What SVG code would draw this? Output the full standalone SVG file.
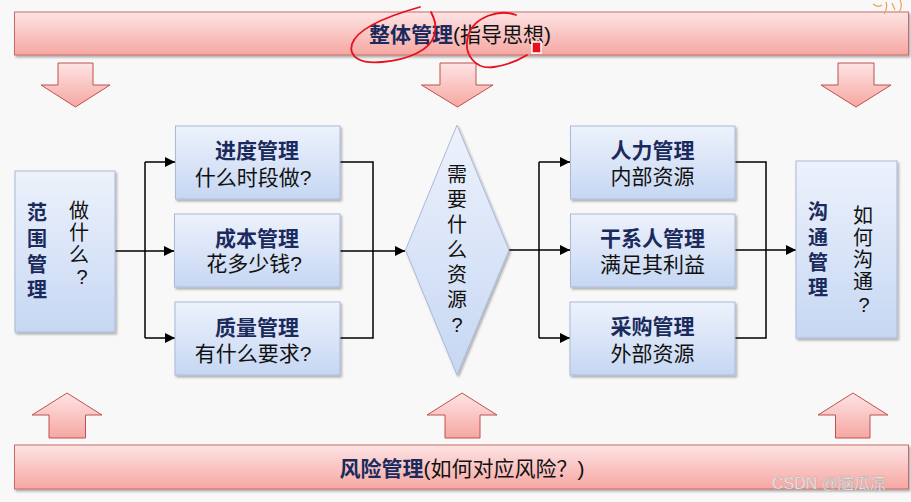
<svg xmlns="http://www.w3.org/2000/svg" width="911" height="502" viewBox="0 0 911 502">
<defs>
<linearGradient id="pink" x1="0" y1="0" x2="0" y2="1">
<stop offset="0" stop-color="#fde4e4"/>
<stop offset="1" stop-color="#f6a7a2"/>
</linearGradient>
<linearGradient id="blue" x1="0" y1="0" x2="0" y2="1">
<stop offset="0" stop-color="#edf2fc"/>
<stop offset="1" stop-color="#c6d7f3"/>
</linearGradient>
<filter id="sh" x="-10%" y="-10%" width="130%" height="130%">
<feDropShadow dx="1.5" dy="2" stdDeviation="1.2" flood-color="#000" flood-opacity="0.3"/>
</filter>
<marker id="ah" viewBox="0 0 10 10" refX="10" refY="5" markerWidth="10" markerHeight="10" markerUnits="userSpaceOnUse" orient="auto">
<path d="M0 0 L10 5 L0 10 z" fill="#000"/>
</marker>
</defs>
<style>
text{font-family:"Liberation Sans","Noto Sans CJK SC",sans-serif;dominant-baseline:central}
.bar{fill:url(#pink);stroke:#c76a66;stroke-width:1;filter:url(#sh)}
.barr{fill:url(#pink);stroke:#c0504d;stroke-width:1}
.box{fill:url(#blue);stroke:#a9b9d8;stroke-width:1;filter:url(#sh)}
.t{font-size:21px;font-weight:bold;fill:#1b2a5c;text-anchor:middle}
.s{font-size:21px;fill:#111;text-anchor:middle}
.v{font-size:20px;text-anchor:middle}
.vb{font-size:20px;font-weight:bold;fill:#1b2a5c;text-anchor:middle}
.c{fill:none;stroke:#000;stroke-width:1.5}
.ca{fill:none;stroke:#000;stroke-width:1.5;marker-end:url(#ah)}
.pen{fill:none;stroke:#e8101a;stroke-width:1.8;stroke-linecap:round}
</style>
<rect width="911" height="502" fill="#f8f8f9"/>

<g id="integration">
<rect class="bar" x="14.5" y="12" width="894" height="43"/>
<text x="460" y="34" style="font-size:21px;text-anchor:middle"><tspan font-weight="bold" fill="#1b2a5c">整体管理</tspan><tspan fill="#111">(指导思想)</tspan></text>
</g>

<g id="risk">
<rect class="bar" x="14.5" y="445" width="894" height="44"/>
<text x="462" y="468" style="font-size:21px;text-anchor:middle"><tspan font-weight="bold" fill="#1b2a5c">风险管理</tspan><tspan fill="#111">(如何对应风险？)</tspan></text>
<text x="829" y="483" style="font-size:16px;text-anchor:middle;fill:#f4f4f4;stroke:#a8a8a8;stroke-width:0.4">CSDN @脑瓜凉</text>
</g>

<g id="down-arrows">
<path class="barr" d="M58 63 H93 V85 H110 L75.5 107 L41 85 H58 Z"/>
<path class="barr" d="M440 63 H476 V85 H493 L457.5 107 L421.5 85 H440 Z"/>
<path class="barr" d="M838 63 H874 V85 H891 L856 107 L821 85 H838 Z"/>
</g>
<g id="up-arrows">
<path class="barr" d="M49 438 H85.5 V415 H102 L67 393 L32 415 H49 Z"/>
<path class="barr" d="M445 438 H480 V415 H497 L462 393 L427 415 H445 Z"/>
<path class="barr" d="M835.5 438 H870 V415 H888 L853 393 L818 415 H835.5 Z"/>
</g>

<g id="connectors">
<path class="c" d="M115 251 H145"/>
<path class="c" d="M145 162 V338"/>
<path class="ca" d="M145 162 H175"/>
<path class="ca" d="M145 251 H174"/>
<path class="ca" d="M145 338 H175"/>
<path class="c" d="M340 162 H373 V338 H340"/>
<path class="ca" d="M340 251 H405"/>
<path class="c" d="M509 250 H539"/>
<path class="c" d="M539 162 V338"/>
<path class="ca" d="M539 162 H570"/>
<path class="ca" d="M539 250 H570"/>
<path class="ca" d="M539 338 H570"/>
<path class="c" d="M735 162 H766 V338 H735"/>
<path class="ca" d="M735 250 H796"/>
</g>

<g id="scope">
<rect class="box" x="15" y="171" width="100" height="161"/>
<text class="vb" x="37" y="213">范</text>
<text class="vb" x="37" y="239">围</text>
<text class="vb" x="37" y="265">管</text>
<text class="vb" x="37" y="290">理</text>
<text class="v" x="79" y="211" fill="#111">做</text>
<text class="v" x="79" y="233" fill="#111">什</text>
<text class="v" x="79" y="255" fill="#111">么</text>
<text class="v" x="82" y="277" fill="#111">?</text>
</g>

<g id="schedule">
<rect class="box" x="175.5" y="126" width="164.5" height="73"/>
<text class="t" x="257" y="150">进度管理</text>
<text class="s" x="253" y="177">什么时段做?</text>
</g>
<g id="cost">
<rect class="box" x="174.5" y="214" width="165.5" height="73"/>
<text class="t" x="257" y="238">成本管理</text>
<text class="s" x="254" y="263">花多少钱?</text>
</g>
<g id="quality">
<rect class="box" x="175" y="302" width="165" height="73"/>
<text class="t" x="257" y="327">质量管理</text>
<text class="s" x="253" y="353">有什么要求?</text>
</g>

<g id="resources">
<path d="M457 125 L509 250 L457 375 L405.5 250 Z" fill="url(#blue)" stroke="#a9b9d8" stroke-width="1" filter="url(#sh)"/>
<text class="v" x="457" y="175" fill="#111">需</text>
<text class="v" x="457" y="200" fill="#111">要</text>
<text class="v" x="457" y="225" fill="#111">什</text>
<text class="v" x="457" y="250" fill="#111">么</text>
<text class="v" x="457" y="275" fill="#111">资</text>
<text class="v" x="457" y="300" fill="#111">源</text>
<text class="v" x="457" y="325" fill="#111">?</text>
</g>

<g id="hr">
<rect class="box" x="570.5" y="126" width="164.5" height="73"/>
<text class="t" x="652.5" y="150">人力管理</text>
<text class="s" x="652.5" y="176">内部资源</text>
</g>
<g id="stakeholder">
<rect class="box" x="570.5" y="214" width="164.5" height="73"/>
<text class="t" x="652.5" y="238">干系人管理</text>
<text class="s" x="652.5" y="264">满足其利益</text>
</g>
<g id="procurement">
<rect class="box" x="570" y="302" width="165" height="73"/>
<text class="t" x="652.5" y="326">采购管理</text>
<text class="s" x="652.5" y="353">外部资源</text>
</g>

<g id="communication">
<rect class="box" x="796" y="161" width="101" height="177"/>
<text class="vb" x="818" y="212">沟</text>
<text class="vb" x="818" y="238">通</text>
<text class="vb" x="818" y="263">管</text>
<text class="vb" x="818" y="288">理</text>
<text class="v" x="863" y="216" fill="#111">如</text>
<text class="v" x="863" y="238" fill="#111">何</text>
<text class="v" x="863" y="260" fill="#111">沟</text>
<text class="v" x="863" y="282" fill="#111">通</text>
<text class="v" x="864" y="305" fill="#111">?</text>
</g>

<g id="annotations">
<path class="pen" d="M420 7 C395 14 358 26 352 44 C348 58 362 64 382 62 C408 60 430 50 434 36 C437 26 435 20 431 12"/>
<path class="pen" d="M516 15 C500 9 474 16 468 36 C463 55 476 70 494 67 C508 65 519 60 527 55"/>
<rect x="532" y="42" width="9" height="11" fill="#e8101a" stroke="#fff" stroke-width="1.5"/>
<path d="M873 4 Q878 8 882 5 M886 2 Q888 8 884 14 M892 3 L895 10 M900 0 Q903 6 899 12" fill="none" stroke="#f0a050" stroke-width="1.2"/>
</g>
</svg>
